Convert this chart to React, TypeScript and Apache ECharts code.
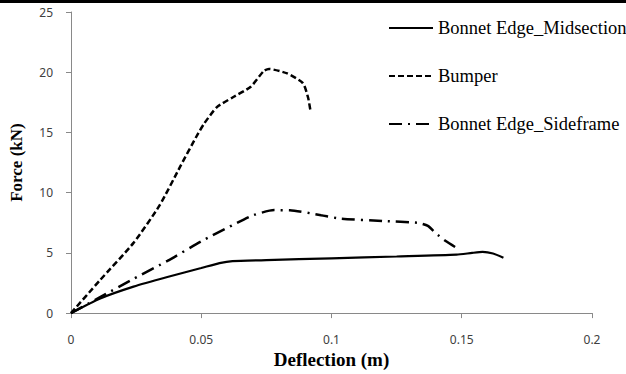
import React, { useEffect, useRef } from "react";
import * as echarts from "echarts";

const xTicks = [0, 0.05, 0.1, 0.15, 0.2];
const yTicks = [0, 5, 10, 15, 20, 25];

const seriesNames = ["Bonnet Edge_Midsection", "Bumper", "Bonnet Edge_Sideframe"];

const midsectionX = [0, 0.011, 0.024, 0.037, 0.05, 0.057, 0.062, 0.075, 0.1, 0.125, 0.148, 0.154, 0.158, 0.162, 0.166];
const midsectionY = [0, 1.2, 2.2, 3.0, 3.74, 4.15, 4.32, 4.4, 4.55, 4.7, 4.85, 5.0, 5.08, 4.95, 4.6];

const bumperX = [0, 0.011, 0.024, 0.034, 0.042, 0.048, 0.051, 0.056, 0.062, 0.069, 0.074, 0.076, 0.083, 0.089, 0.091, 0.092];
const bumperY = [0, 2.7, 5.83, 8.94, 12.2, 14.6, 15.7, 17.1, 17.9, 18.8, 20.1, 20.27, 19.9, 19.1, 17.9, 16.7];

const sideframeX = [0, 0.011, 0.024, 0.037, 0.05, 0.062, 0.07, 0.078, 0.084, 0.096, 0.103, 0.12, 0.133, 0.137, 0.14, 0.144, 0.148];
const sideframeY = [0, 1.3, 2.85, 4.33, 5.96, 7.3, 8.13, 8.55, 8.54, 8.13, 7.86, 7.64, 7.5, 7.24, 6.64, 5.96, 5.42];

const zip = (xs: number[], ys: number[]) => xs.map((x, i) => [x, ys[i]]);

export default function App() {
  const ref = useRef<HTMLDivElement>(null);
  useEffect(() => {
    document.body.style.margin = "0";
    document.body.style.overflow = "hidden";
    const chart = echarts.init(ref.current!, null, { renderer: "svg" });
    const serif = "Liberation Serif";
    chart.setOption({
      animation: false,
      backgroundColor: "#ffffff",
      grid: { left: 71, right: 34, top: 12, bottom: 54, containLabel: false },
      legend: {
        orient: "vertical",
        left: 388,
        top: 18,
        padding: 0,
        itemWidth: 44,
        itemHeight: 14,
        itemGap: 28,
        itemStyle: { opacity: 0 },
        data: seriesNames,
        textStyle: { fontFamily: serif, fontSize: 18.5, color: "#000", lineHeight: 20 },
      },
      graphic: [
        { type: "rect", left: 0, top: 0, shape: { width: 626, height: 3 }, style: { fill: "#000" } },
      ],
      xAxis: {
        type: "value",
        min: xTicks[0],
        max: xTicks[xTicks.length - 1],
        interval: 0.05,
        name: "Deflection (m)",
        nameLocation: "middle",
        nameGap: 30,
        nameTextStyle: { fontFamily: serif, fontWeight: "bold", fontSize: 19, color: "#000" },
        splitLine: { show: false },
        axisLine: { lineStyle: { color: "#898989", width: 1 } },
        axisTick: { show: true, length: 5, lineStyle: { color: "#898989" } },
        axisLabel: {
          margin: 20,
          fontFamily: "Noto Sans",
          fontSize: 12,
          color: "#404040",
          formatter: (v: number) => String(parseFloat(v.toFixed(2))),
        },
      },
      yAxis: {
        type: "value",
        min: yTicks[0],
        max: yTicks[yTicks.length - 1],
        interval: 5,
        name: "Force (kN)",
        nameLocation: "middle",
        nameGap: 46,
        nameTextStyle: { fontFamily: serif, fontWeight: "bold", fontSize: 17, color: "#000" },
        splitLine: { show: false },
        axisLine: { show: true, lineStyle: { color: "#898989", width: 1 } },
        axisTick: { show: true, length: 5, lineStyle: { color: "#898989" } },
        axisLabel: { margin: 18, fontFamily: "Noto Sans", fontSize: 12, color: "#404040" },
      },
      series: [
        {
          name: seriesNames[0],
          type: "line",
          data: zip(midsectionX, midsectionY),
          showSymbol: false,
          symbol: "none",
          smooth: 0.2,
          lineStyle: { color: "#000", width: 2.2, type: "solid" },
          itemStyle: { color: "#000" },
        },
        {
          name: seriesNames[1],
          type: "line",
          data: zip(bumperX, bumperY),
          showSymbol: false,
          symbol: "none",
          smooth: 0.2,
          lineStyle: { color: "#000", width: 2.5, type: [6, 3] },
          itemStyle: { color: "#000" },
        },
        {
          name: seriesNames[2],
          type: "line",
          data: zip(sideframeX, sideframeY),
          showSymbol: false,
          symbol: "none",
          smooth: 0.2,
          lineStyle: { color: "#000", width: 2.5, type: [13, 6, 2, 6] },
          itemStyle: { color: "#000" },
        },
      ],
    });
    return () => chart.dispose();
  }, []);
  return (
    <div
      ref={ref}
      style={{ position: "fixed", left: 0, top: 0, width: 626, height: 374, overflow: "hidden" }}
    />
  );
}
